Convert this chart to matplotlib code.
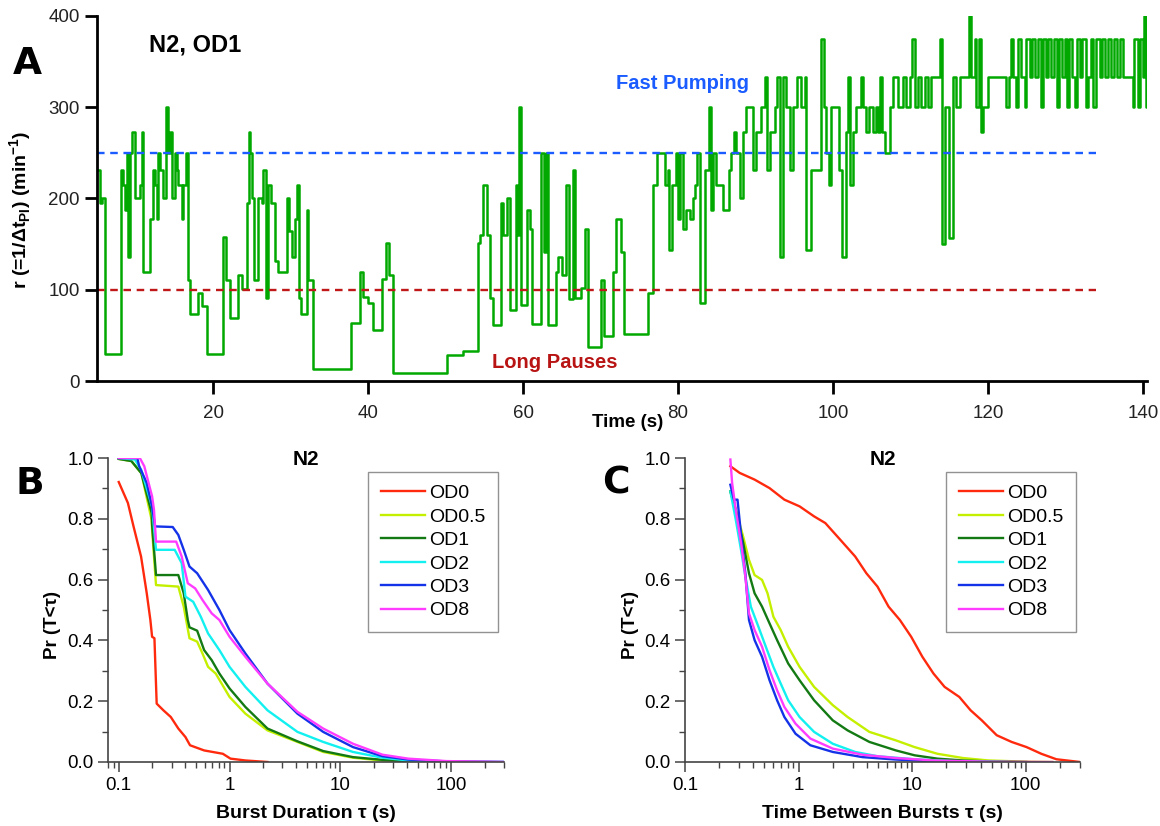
import matplotlib
matplotlib.use("Agg")
import matplotlib.pyplot as plt
from matplotlib.ticker import FixedLocator, MultipleLocator, LogLocator, NullFormatter

plt.rcParams['font.family'] = ['Liberation Sans', 'DejaVu Sans']
plt.rcParams['mathtext.fontset'] = 'custom'
plt.rcParams['mathtext.rm'] = 'Liberation Sans'
plt.rcParams['mathtext.bf'] = 'Liberation Sans:bold'

# ---- panel A: pumping rate trace (N2, OD1), step starts (s) and rates (1/min)
trace_t = [
    5.0, 5.39, 5.6, 6.03, 8.09, 8.4, 8.61, 8.83, 9.04, 9.26, 9.56, 9.9, 10.55, 10.76, 10.98,
    11.84, 12.27, 12.48, 12.74, 12.91, 13.13, 13.56, 13.86, 14.11, 14.42, 14.72, 15.06, 15.28,
    15.49, 15.92, 16.14, 16.44, 16.69, 17.0, 18.07, 18.5, 19.15, 21.3, 21.64, 22.16, 23.14,
    23.66, 24.31, 24.61, 24.74, 24.95, 25.29, 25.81, 26.24, 26.46, 26.76, 27.1, 27.4, 27.96,
    28.39, 29.47, 29.77, 30.11, 30.54, 30.76, 31.06, 31.31, 32.05, 32.26, 32.9, 37.85, 38.93,
    39.36, 40.0, 40.66, 41.73, 42.25, 42.68, 43.24, 50.12, 52.27, 54.2, 54.5, 54.85, 55.28,
    55.71, 56.14, 57.12, 57.43, 57.86, 58.29, 59.02, 59.25, 59.45, 59.79, 60.56, 60.95, 61.17,
    62.37, 62.71, 63.02, 63.23, 64.22, 64.52, 65.04, 65.6, 65.9, 66.46, 66.76, 67.53, 67.96,
    68.39, 70.11, 70.45, 71.62, 72.05, 72.69, 73.03, 76.14, 76.79, 77.22, 78.29, 78.72, 78.85,
    79.28, 79.8, 80.01, 80.31, 80.66, 81.09, 81.52, 81.95, 82.25, 82.5, 82.81, 83.54, 83.97,
    84.22, 84.53, 84.95, 85.82, 86.55, 86.89, 87.19, 87.54, 87.96, 88.39, 88.83, 89.69, 90.12,
    90.76, 91.19, 91.53, 91.84, 92.48, 92.82, 93.13, 93.56, 93.99, 94.42, 94.85, 95.4, 95.92,
    96.35, 96.57, 97.12, 98.5, 98.84, 99.15, 99.45, 99.79, 100.74, 101.17, 101.73, 101.94,
    102.16, 102.59, 103.02, 103.66, 103.92, 104.3, 104.7, 105.1, 105.5, 105.8, 106.03, 106.33,
    106.76, 107.32, 107.75, 108.39, 108.61, 109.04, 109.47, 109.9, 110.24, 110.55, 110.98,
    111.41, 111.84, 112.27, 112.7, 113.77, 114.07, 114.42, 114.97, 115.49, 115.92, 116.35,
    117.55, 117.86, 118.29, 118.5, 118.84, 119.15, 119.36, 120.0, 122.37, 122.71, 123.02,
    123.23, 123.57, 123.88, 124.31, 124.74, 124.95, 125.4, 125.7, 126.1, 126.4, 126.8, 127.1,
    127.5, 127.8, 128.2, 128.5, 128.9, 129.2, 129.6, 129.9, 130.2, 130.5, 130.9, 131.2, 131.5,
    131.9, 132.2, 132.6, 132.9, 133.3, 133.6, 134.0, 134.4, 134.7, 135.1, 135.5, 135.9, 136.3,
    136.7, 137.0, 137.4, 138.71, 138.9, 139.36, 139.57, 140.0, 140.2, 140.4,
]
trace_r = [
    231, 195, 200, 30, 231, 215, 187, 250, 136, 250, 273, 200, 215, 273, 120,
    177, 231, 215, 177, 250, 231, 200, 300, 250, 273, 200, 250, 231,
    215, 177, 215, 250, 111, 73, 96, 82, 30, 158, 111, 69, 116,
    101, 195, 273, 250, 201, 111, 201, 195, 231, 91, 215, 195, 131,
    120, 201, 164, 136, 177, 215, 91, 73, 187, 111, 13, 64, 120,
    92, 86, 56, 112, 151, 116, 9, 28, 33, 151, 160, 215, 160,
    91, 61, 195, 160, 201, 78, 215, 160, 300, 83, 187, 167, 63,
    250, 141, 250, 61, 120, 136, 116, 215, 90, 231, 91, 102, 167,
    37, 111, 49, 120, 178, 141, 52, 96, 215, 250, 215, 231, 144,
    215, 250, 178, 250, 167, 187, 178, 200, 215, 250, 86, 231, 300,
    187, 250, 215, 187, 231, 250, 273, 250, 200, 273, 300, 231, 273,
    300, 333, 231, 273, 300, 333, 136, 333, 300, 231, 300, 333, 300,
    333, 144, 231, 375, 300, 250, 215, 300, 231, 136, 273, 333,
    215, 273, 300, 333, 300, 273, 300, 273, 300, 273, 333, 273,
    250, 300, 333, 300, 300, 333, 300, 333, 375, 300, 333,
    300, 333, 300, 333, 375, 150, 300, 157, 333, 300, 333,
    400, 333, 375, 300, 375, 273, 300, 333, 300, 333, 375,
    333, 300, 375, 333, 300, 375, 333, 375, 333, 375, 300, 375,
    333, 375, 333, 375, 300, 375, 333, 375, 300, 375, 333, 300, 375,
    333, 375, 300, 333, 375, 300, 375, 333, 375, 333, 375, 333, 375,
    333, 375, 333, 300, 375, 300, 375, 333, 400, 300,
]
trace_end = 140.5
fast_level = 250
pause_level = 100
ref_end = 134

# ---- panel B: burst duration survival curves
dur_x = {
    'OD0':   [0.1, 0.121, 0.136, 0.159, 0.179, 0.193, 0.2, 0.21, 0.22, 0.253, 0.295, 0.345, 0.4, 0.44, 0.59, 0.87, 1.02, 1.39, 2.2],
    'OD0.5': [0.1, 0.13, 0.16, 0.198, 0.2, 0.217, 0.345, 0.386, 0.435, 0.51, 0.57, 0.64, 0.75, 1.0, 1.39, 2.2, 4.1, 7.0, 13, 24, 41, 90],
    'OD1':   [0.1, 0.13, 0.16, 0.198, 0.2, 0.217, 0.345, 0.386, 0.42, 0.435, 0.51, 0.59, 0.69, 0.81, 1.0, 1.39, 2.2, 4.1, 7.0, 13, 24, 41, 90],
    'OD2':   [0.1, 0.14, 0.16, 0.2, 0.217, 0.32, 0.37, 0.4, 0.47, 0.55, 0.64, 0.81, 1.0, 1.39, 2.2, 4.1, 7.0, 13, 24, 41, 90, 300],
    'OD3':   [0.1, 0.147, 0.153, 0.179, 0.2, 0.213, 0.307, 0.345, 0.386, 0.435, 0.51, 0.64, 0.81, 1.0, 1.39, 2.2, 4.1, 7.0, 13, 24, 41, 90, 300],
    'OD8':   [0.1, 0.155, 0.17, 0.186, 0.2, 0.208, 0.217, 0.33, 0.37, 0.42, 0.49, 0.57, 0.69, 0.81, 1.0, 1.39, 2.2, 4.1, 7.0, 13, 24, 41, 90, 300],
}
dur_y = {
    'OD0':   [0.921, 0.852, 0.775, 0.676, 0.555, 0.467, 0.412, 0.407, 0.192, 0.17, 0.148, 0.11, 0.082, 0.055, 0.038, 0.027, 0.011, 0.005, 0.0],
    'OD0.5': [0.997, 0.99, 0.95, 0.797, 0.764, 0.582, 0.577, 0.511, 0.407, 0.396, 0.357, 0.313, 0.291, 0.214, 0.159, 0.104, 0.066, 0.033, 0.014, 0.005, 0.001, 0.0],
    'OD1':   [0.997, 0.99, 0.95, 0.82, 0.78, 0.615, 0.615, 0.555, 0.467, 0.443, 0.432, 0.368, 0.335, 0.291, 0.242, 0.181, 0.11, 0.068, 0.036, 0.016, 0.007, 0.002, 0.0],
    'OD2':   [1.0, 0.995, 0.96, 0.84, 0.698, 0.698, 0.654, 0.544, 0.527, 0.478, 0.423, 0.368, 0.313, 0.247, 0.17, 0.099, 0.066, 0.033, 0.014, 0.005, 0.001, 0.0],
    'OD3':   [1.0, 1.0, 0.973, 0.918, 0.84, 0.775, 0.773, 0.747, 0.698, 0.643, 0.621, 0.566, 0.5, 0.434, 0.357, 0.258, 0.159, 0.099, 0.049, 0.019, 0.008, 0.002, 0.0],
    'OD8':   [1.0, 1.0, 0.973, 0.918, 0.874, 0.83, 0.725, 0.725, 0.676, 0.588, 0.571, 0.533, 0.489, 0.467, 0.412, 0.346, 0.258, 0.165, 0.11, 0.06, 0.024, 0.011, 0.003, 0.0],
}

# ---- panel C: time between bursts survival curves
gap_x = {
    'OD0':   [0.251, 0.303, 0.41, 0.555, 0.75, 1.02, 1.37, 1.72, 2.33, 3.15, 3.95, 4.95, 6.2, 7.8, 9.8, 12.3, 15.4, 19.3, 26, 32.7, 41, 55.5, 75, 101.6, 137, 186, 300],
    'OD0.5': [0.251, 0.28, 0.326, 0.366, 0.41, 0.477, 0.533, 0.6, 0.696, 0.81, 1.02, 1.37, 2.0, 2.7, 4.2, 7.2, 10.5, 16.7, 28, 47, 101, 171],
    'OD1':   [0.251, 0.28, 0.326, 0.366, 0.41, 0.477, 0.555, 0.647, 0.81, 1.02, 1.37, 2.0, 2.7, 4.2, 7.2, 10.5, 16.7, 28, 47, 101],
    'OD2':   [0.251, 0.28, 0.315, 0.34, 0.38, 0.443, 0.515, 0.6, 0.696, 0.81, 1.02, 1.37, 2.0, 3.15, 4.95, 10.5, 22, 70],
    'OD3':   [0.251, 0.27, 0.29, 0.315, 0.34, 0.366, 0.41, 0.477, 0.555, 0.647, 0.75, 0.94, 1.27, 2.0, 3.65, 7.2, 15.4, 33],
    'OD8':   [0.251, 0.26, 0.28, 0.315, 0.34, 0.366, 0.41, 0.477, 0.555, 0.647, 0.75, 0.94, 1.27, 2.0, 3.65, 7.2, 15.4, 47, 171],
}
gap_y = {
    'OD0':   [0.973, 0.951, 0.929, 0.901, 0.863, 0.841, 0.808, 0.786, 0.731, 0.676, 0.621, 0.577, 0.511, 0.467, 0.412, 0.346, 0.291, 0.247, 0.214, 0.17, 0.137, 0.088, 0.066, 0.049, 0.027, 0.009, 0.0],
    'OD0.5': [0.89, 0.83, 0.74, 0.665, 0.615, 0.599, 0.555, 0.478, 0.434, 0.379, 0.313, 0.247, 0.187, 0.148, 0.099, 0.071, 0.049, 0.027, 0.013, 0.005, 0.001, 0.0],
    'OD1':   [0.89, 0.83, 0.72, 0.621, 0.555, 0.511, 0.456, 0.401, 0.324, 0.269, 0.203, 0.137, 0.104, 0.066, 0.038, 0.022, 0.011, 0.005, 0.002, 0.0],
    'OD2':   [0.89, 0.797, 0.687, 0.61, 0.511, 0.445, 0.379, 0.313, 0.258, 0.203, 0.148, 0.099, 0.06, 0.033, 0.019, 0.009, 0.003, 0.0],
    'OD3':   [0.912, 0.863, 0.863, 0.731, 0.621, 0.467, 0.401, 0.346, 0.269, 0.203, 0.148, 0.093, 0.055, 0.033, 0.016, 0.008, 0.002, 0.0],
    'OD8':   [0.995, 0.918, 0.83, 0.709, 0.61, 0.489, 0.434, 0.379, 0.302, 0.236, 0.181, 0.126, 0.077, 0.044, 0.024, 0.013, 0.005, 0.001, 0.0],
}

series = ['OD0', 'OD0.5', 'OD1', 'OD2', 'OD3', 'OD8']
colors = {'OD0': '#ff2a0e', 'OD0.5': '#c4f000', 'OD1': '#137a13', 'OD2': '#12f0f0',
          'OD3': '#1433e8', 'OD8': '#ff3cff'}

fig = plt.figure(figsize=(11.6, 8.26), dpi=100)

# ---------- A ----------
ax = fig.add_axes([0.0836, 0.5387, 0.905, 0.442])
ax.step(trace_t + [trace_end], trace_r + [trace_r[-1]], where='post', color='#00a800', lw=1.8)
ax.plot([trace_t[0], ref_end], [fast_level, fast_level], color='#1a5cff', lw=1.7, dashes=(3.2, 2.4))
ax.plot([trace_t[0], ref_end], [pause_level, pause_level], color='#c01818', lw=1.7, dashes=(3.2, 2.4))
ax.set_xlim(5, 140.5)
ax.set_ylim(0, 400)
ax.set_xticks([20, 40, 60, 80, 100, 120, 140])
ax.set_yticks([0, 100, 200, 300, 400])
for s in ['top', 'right']:
    ax.spines[s].set_visible(False)
for s in ['left', 'bottom']:
    ax.spines[s].set_linewidth(2)
ax.tick_params(direction='out', length=9, width=2, labelsize=13.5, labelcolor='#222222')
ax.tick_params(axis='x', pad=8)
ax.set_xlabel('Time (s)', fontsize=13.5, fontweight='bold')
ax.xaxis.set_label_coords(0.505, -0.09)
ax.set_ylabel(r'r (=1/Δt$_{\mathbf{PI}}$) (min$^{\mathbf{-1}}$)', fontsize=14, fontweight='bold')
ax.yaxis.set_label_coords(-0.06, 0.47)
ax.text(0.05, 0.92, 'N2, OD1', transform=ax.transAxes, fontsize=17, fontweight='bold', va='center')
ax.text(0.558, 0.816, 'Fast Pumping', transform=ax.transAxes, fontsize=14.5, fontweight='bold',
        color='#1a5cff', ha='center', va='center')
ax.text(0.436, 0.052, 'Long Pauses', transform=ax.transAxes, fontsize=14.5, fontweight='bold',
        color='#b81414', ha='center', va='center')


def cdf_panel(ax, xs, ys, xlim, xlabel, legend_x, ylabel_x):
    for name in series:
        ax.plot(xs[name], ys[name], color=colors[name], lw=1.7, label=name)
    ax.set_xscale('log')
    ax.set_xlim(*xlim)
    ax.set_ylim(0, 1.0)
    ax.xaxis.set_major_locator(FixedLocator([0.1, 1, 10, 100]))
    ax.set_xticklabels(['0.1', '1', '10', '100'])
    ax.xaxis.set_minor_locator(LogLocator(base=10, subs=range(2, 10)))
    ax.xaxis.set_minor_formatter(NullFormatter())
    ax.set_yticks([0.0, 0.2, 0.4, 0.6, 0.8, 1.0])
    ax.set_yticklabels(['0.0', '0.2', '0.4', '0.6', '0.8', '1.0'])
    ax.yaxis.set_minor_locator(MultipleLocator(0.1))
    for s in ['top', 'right']:
        ax.spines[s].set_visible(False)
    for s in ['left', 'bottom']:
        ax.spines[s].set_linewidth(1.2)
        ax.spines[s].set_color('#444444')
    ax.tick_params(which='major', direction='out', length=7, width=1.1, labelsize=13.5, color='#444444')
    ax.tick_params(which='minor', direction='out', length=4, width=1.0, color='#444444')
    ax.set_title('N2', fontsize=15, fontweight='bold', y=1.0, pad=-5)
    ax.set_xlabel(xlabel, fontsize=14, fontweight='bold')
    ax.xaxis.set_label_coords(0.5, -0.14)
    ax.set_ylabel('Pr (T<τ)', fontsize=13.5, fontweight='bold')
    ax.yaxis.set_label_coords(ylabel_x, 0.45)
    leg = ax.legend(loc='upper left', bbox_to_anchor=(legend_x, 0.954), frameon=True, fancybox=False,
                    edgecolor='#777777', fontsize=14, handlelength=2.27, handletextpad=0.2,
                    labelspacing=0.3, borderpad=0.65, borderaxespad=0)
    leg.get_frame().set_linewidth(1.0)


axb = fig.add_axes([0.0931, 0.0775, 0.3414, 0.368])
cdf_panel(axb, dur_x, dur_y, (0.08, 300), 'Burst Duration τ (s)', 0.657, -0.119)

axc = fig.add_axes([0.5905, 0.0775, 0.3405, 0.368])
cdf_panel(axc, gap_x, gap_y, (0.1, 300), 'Time Between Bursts τ (s)', 0.661, -0.116)

# panel letters
fig.text(27 / 1160, 1 - 64 / 826, 'A', fontsize=27, fontweight='bold', family='DejaVu Sans', ha='center', va='center')
fig.text(30 / 1160, 1 - 484 / 826, 'B', fontsize=27, fontweight='bold', family='DejaVu Sans', ha='center', va='center')
fig.text(616 / 1160, 1 - 484 / 826, 'C', fontsize=27, fontweight='bold', family='DejaVu Sans', ha='center', va='center')

fig.savefig('out.png', dpi=100)
